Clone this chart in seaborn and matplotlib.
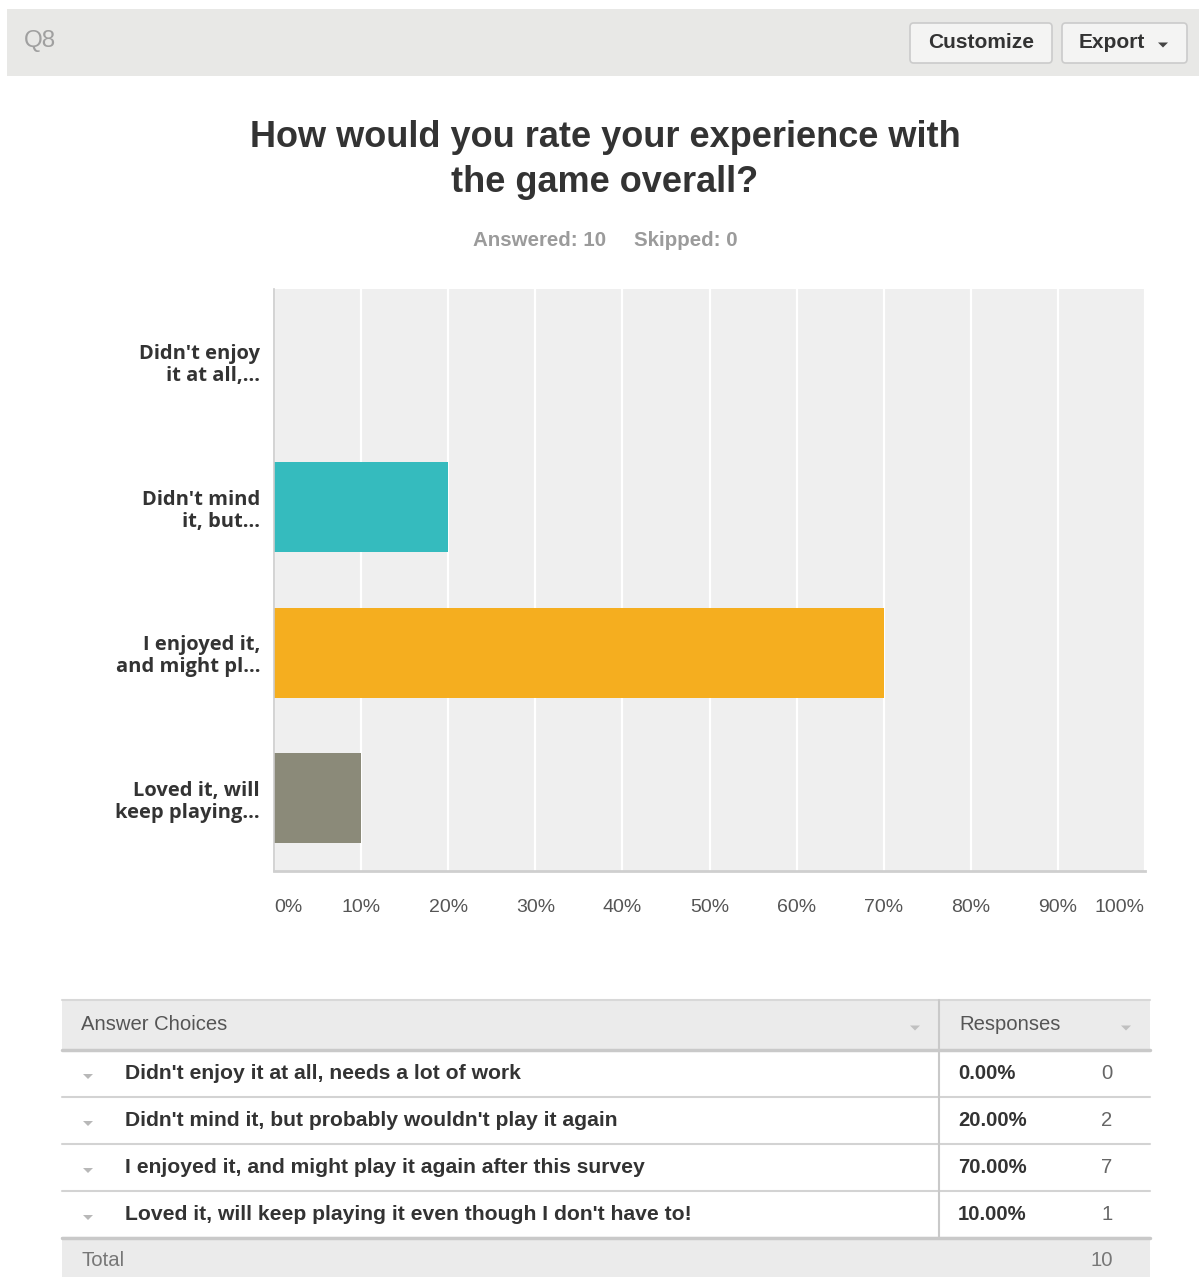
import matplotlib
matplotlib.use("Agg")
import matplotlib.pyplot as plt
from matplotlib.patches import Rectangle, FancyBboxPatch, Polygon
import seaborn as sns
import pandas as pd

# Survey question Q8 results
question = "How would you rate your experience with\nthe game overall?"
answered = 10
skipped = 0
short_labels = ["Didn't enjoy\nit at all,...", "Didn't mind\nit, but...",
                "I enjoyed it,\nand might pl...", "Loved it, will\nkeep playing..."]
full_labels = ["Didn't enjoy it at all, needs a lot of work",
               "Didn't mind it, but probably wouldn't play it again",
               "I enjoyed it, and might play it again after this survey",
               "Loved it, will keep playing it even though I don't have to!"]
percents = [0.0, 20.0, 70.0, 10.0]
counts = [0, 2, 7, 1]
bar_colors = ["#2E8BC0", "#35BBBE", "#F5AE1F", "#8B8A79"]
xticks = [0, 10, 20, 30, 40, 50, 60, 70, 80, 90, 100]

W, H = 1199, 1277
sns.set_theme(style="white")
plt.rcParams["font.family"] = ["Liberation Sans", "DejaVu Sans"]

fig = plt.figure(figsize=(W / 100, H / 100), dpi=100)
fig.patch.set_facecolor("white")


def fx(x):
    return x / W


def fy(y):
    return 1 - y / H


def frect(x0, y0, x1, y1, **kw):
    fig.patches.append(Rectangle((fx(x0), fy(y1)), fx(x1) - fx(x0), fy(y0) - fy(y1),
                                 transform=fig.transFigure, **kw))


def fline(x0, x1, y, color="#D6D6D6", lw=1.0):
    fig.add_artist(plt.Line2D([fx(x0), fx(x1)], [fy(y), fy(y)], transform=fig.transFigure,
                              color=color, lw=lw))


def ftri(x, y, color="#B5B5B5", s=5):
    fig.patches.append(Polygon([(fx(x - s), fy(y - s / 2)), (fx(x + s), fy(y - s / 2)),
                                (fx(x), fy(y + s / 2))], closed=True,
                               transform=fig.transFigure, color=color, lw=0))


# Header bar with question number and buttons
frect(7, 9, 1199, 76, facecolor="#E8E8E6", edgecolor="none")
fig.text(fx(24), fy(41), "Q8", fontsize=17.5, color="#A0A0A0", va="center", ha="left")
for (x0, x1, label) in [(910, 1052, "Customize"), (1062, 1187, "Export")]:
    fig.patches.append(FancyBboxPatch((fx(x0), fy(63)), fx(x1) - fx(x0), fy(23) - fy(63),
                                      boxstyle="round,pad=0,rounding_size=0.003",
                                      transform=fig.transFigure, facecolor="#F4F4F3",
                                      edgecolor="#CBCBCB", lw=1.2))
fig.text(fx(981), fy(43), "Customize", fontsize=15, fontweight="bold", color="#333333",
         ha="center", va="center")
fig.text(fx(1112), fy(43), "Export", fontsize=15, fontweight="bold", color="#333333",
         ha="center", va="center")
ftri(1163, 45, color="#444444", s=5)

# Title and response summary
fig.text(fx(605), fy(160), question, fontsize=26, fontweight="bold", color="#333333",
         ha="center", va="center", linespacing=1.36)
fig.text(fx(540), fy(240), f"Answered: {answered}", fontsize=14.8, fontweight="bold",
         color="#9B9B9B", ha="center", va="center")
fig.text(fx(686), fy(240), f"Skipped: {skipped}", fontsize=14.8, fontweight="bold",
         color="#9B9B9B", ha="center", va="center")

# Horizontal bar chart
ax = fig.add_axes([fx(274), fy(871), fx(1145) - fx(274), fy(289) - fy(871)])
df = pd.DataFrame({"label": short_labels, "pct": percents})
sns.barplot(data=df, y="label", x="pct", hue="label", palette=bar_colors,
            width=0.62, legend=False, ax=ax, orient="h", saturation=1, linewidth=0)
ax.set_facecolor("#EFEFEF")
ax.set_xlim(0, 100)
ax.set_ylim(3.5, -0.5)
ax.set_xticks(xticks)
ax.set_xticklabels([f"{t}%" for t in xticks], fontsize=14, color="#555555")
ax.grid(axis="x", color="white", lw=1.6)
ax.grid(axis="y", visible=False)
ax.set_axisbelow(True)
ax.set_xlabel("")
ax.set_ylabel("")
for side in ["top", "right"]:
    ax.spines[side].set_visible(False)
ax.spines["left"].set_color("#CCCCCC")
ax.spines["left"].set_linewidth(1.2)
ax.spines["bottom"].set_color("#CFCFCF")
ax.spines["bottom"].set_linewidth(2)
ax.tick_params(axis="x", length=0, pad=20)
ax.tick_params(axis="y", length=0, pad=10)
tl = ax.get_xticklabels()
tl[0].set_ha("left")
tl[-1].set_ha("right")
for lab in ax.get_yticklabels():
    lab.set_fontfamily(["Open Sans", "DejaVu Sans"])
    lab.set_fontweight("bold")
    lab.set_fontsize(14.5)
    lab.set_color("#333333")
    lab.set_linespacing(1.12)
    lab.set_ha("right")

# Results table
frect(62, 1000, 1150, 1050, facecolor="#EBEBEB", edgecolor="none")
fline(62, 1150, 1000, color="#D8D8D8", lw=1.5)
fline(62, 1150, 1050, color="#C9C9C9", lw=2.5)
fig.text(fx(81), fy(1025), "Answer Choices", fontsize=14.6, color="#555555", va="center")
fig.text(fx(959), fy(1025), "Responses", fontsize=14.6, color="#555555", va="center")
ftri(915, 1028, color="#C0C0C0", s=5)
ftri(1126, 1028, color="#C0C0C0", s=5)

row_tops = [1050, 1097, 1144, 1191]
row_h = 47
for top, label, pct, cnt in zip(row_tops, full_labels, percents, counts):
    yc = top + row_h / 2
    fig.text(fx(125), fy(yc), label, fontsize=15.2, fontweight="bold", color="#333333",
             va="center")
    fig.text(fx(958), fy(yc), f"{pct:.2f}%", fontsize=14.6, fontweight="bold",
             color="#333333", va="center")
    fig.text(fx(1107), fy(yc), str(cnt), fontsize=14.6, color="#666666", va="center",
             ha="center")
    ftri(88, yc + 3, color="#B8B8B8", s=5)
    fline(62, 1150, top + row_h, color="#D3D3D3", lw=1.5)

frect(62, 1238, 1150, 1277, facecolor="#EBEBEB", edgecolor="none")
fline(62, 1150, 1238, color="#C9C9C9", lw=2.5)
fig.add_artist(plt.Line2D([fx(939), fx(939)], [fy(1000), fy(1238)], transform=fig.transFigure,
                          color="#C9C9C9", lw=1.5))
fig.text(fx(81), fy(1261), "Total", fontsize=14.6, color="#777777", va="center")
fig.text(fx(1102), fy(1261), str(sum(counts)), fontsize=14.6, color="#777777", va="center",
         ha="center")

fig.savefig("out.png", dpi=100, facecolor="white")
